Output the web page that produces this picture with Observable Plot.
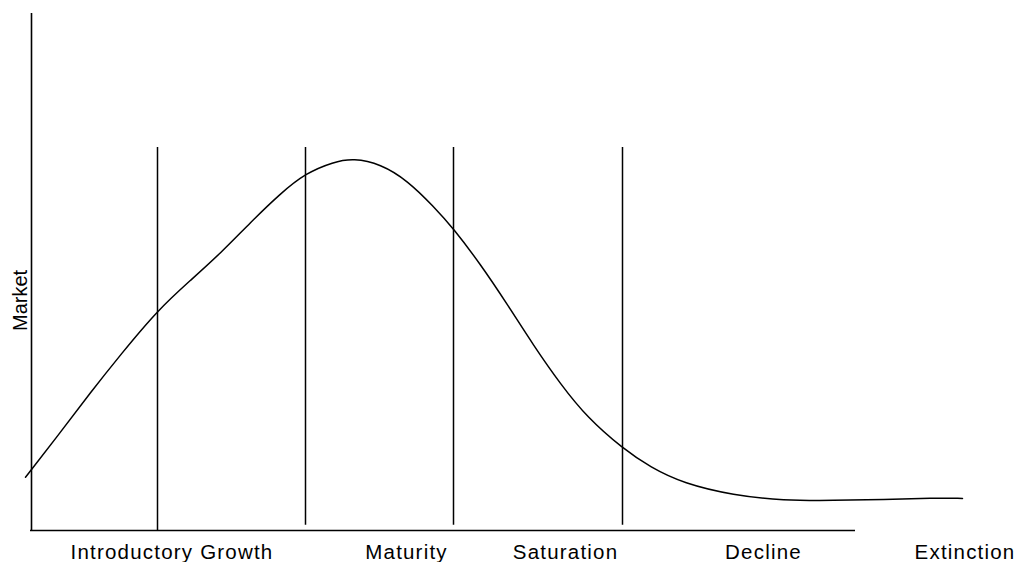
<!DOCTYPE html>
<html>
<head>
<meta charset="utf-8">
<script src="https://cdn.jsdelivr.net/npm/d3@7"></script>
<script src="https://cdn.jsdelivr.net/npm/@observablehq/plot@0.6"></script>
<style>
  html, body { margin: 0; padding: 0; background: #fff; }
  #chart svg { display: block; }
</style>
</head>
<body>
<div id="chart"></div>
<script>
// Product life-cycle curve (time in arbitrary periods, market size in arbitrary units)
const time   = [-0.6, 2.9, 5.9, 8.9, 12.6, 15.9, 18.9, 21.9, 24.9, 27.4, 30.2, 32.2, 34.9, 37.6, 40.2, 42.2, 44.9, 47.6, 50.2, 52.9, 55.6, 59.1, 61.9, 65.2, 70.2, 75.2, 80.2, 85.2, 90.2, 93.1];
const market = [10.3, 19.0, 26.7, 34.0, 42.6, 48.4, 53.6, 59.6, 65.2, 69.1, 71.3, 72.0, 70.9, 67.7, 62.7, 58.4, 51.5, 43.7, 35.8, 28.3, 21.8, 15.9, 12.2, 9.1, 6.8, 5.8, 5.8, 6.0, 6.3, 6.2];

// Stage boundaries
const boundaryTime   = [12.6, 27.4, 42.2, 59.1];
const boundaryBottom = [0, 1, 1, 1];
const boundaryTop    = [74.1, 74.1, 74.1, 74.1];

// Stage labels along the time axis
const stageLabels  = ["Introductory Growth", "Maturity", "Saturation", "Decline", "Extinction"];
const stageCenters = [14.05, 37.5, 53.4, 73.2, 93.35];

const yLabel = "Market";
const yLabelAt = 44.5;
const xAxisEnd = 82.4;
const yAxisTop = 100;

const curve = time.map((t, i) => ({t, m: market[i]}));
const bounds = boundaryTime.map((t, i) => ({t, y1: boundaryBottom[i], y2: boundaryTop[i]}));
const stages = stageLabels.map((label, i) => ({label, t: stageCenters[i]}));

const chart = Plot.plot({
  width: 1016,
  height: 562,
  marginTop: 13,
  marginBottom: 32,
  marginLeft: 31,
  marginRight: 0,
  x: {domain: [0, 98.5], axis: null},
  y: {domain: [0, 100], axis: null},
  style: {fontFamily: "'Liberation Sans', Arial, sans-serif", background: "#fff", color: "#000"},
  marks: [
    Plot.ruleX([0], {y1: 0, y2: yAxisTop, stroke: "#000", strokeWidth: 1.6}),
    Plot.ruleY([0], {x1: -0.1, x2: xAxisEnd, stroke: "#000", strokeWidth: 1.6}),
    Plot.ruleX(bounds, {x: "t", y1: "y1", y2: "y2", stroke: "#000", strokeWidth: 1.5}),
    Plot.line(curve, {x: "t", y: "m", curve: "basis", stroke: "#000", strokeWidth: 1.5}),
    Plot.text(stages, {
      x: "t", y: () => 0, text: "label",
      dy: 22.4, lineAnchor: "middle", textAnchor: "middle",
      fontSize: 20.5, fill: "#000"
    }),
    Plot.text([yLabel], {
      y: () => yLabelAt, text: d => d,
      frameAnchor: "left", dx: -11, rotate: -90,
      lineAnchor: "middle", textAnchor: "middle",
      fontSize: 20, fill: "#000"
    })
  ]
});
chart.querySelectorAll("text").forEach(t => {
  if (stageLabels.includes(t.textContent)) t.style.letterSpacing = "1.2px";
});
document.getElementById("chart").appendChild(chart);
</script>
</body>
</html>
